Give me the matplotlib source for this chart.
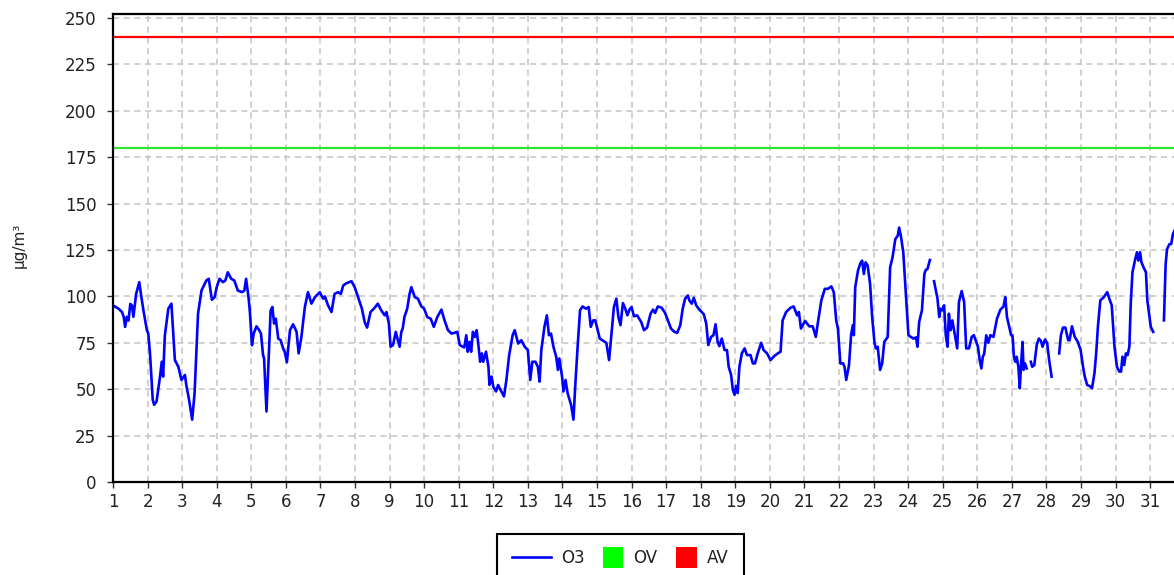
import numpy as np
import matplotlib
matplotlib.use("Agg")
import matplotlib.pyplot as plt
from matplotlib.patches import Rectangle, Patch
from matplotlib.lines import Line2D
from matplotlib.legend_handler import HandlerPatch

# ---- data (day of month, O3 in µg/m³); None = missing measurement ----
day = [
    1.00, 1.16, 1.26, 1.31, 1.35, 1.40, 1.45, 1.50, 1.55, 1.59, 1.67, 1.76, 1.80, 1.88, 1.98,
    2.02, 2.07, 2.15, 2.19, 2.26, 2.36, 2.41, 2.45, 2.50, 2.60, 2.69, 2.79, 2.89, 2.98,
    3.08, 3.12, 3.20, 3.29, 3.36, 3.46, 3.56, 3.70, 3.77, 3.86, 3.94,
    4.00, 4.08, 4.18, 4.25, 4.32, 4.42, 4.51, 4.61, 4.73, 4.80, 4.85, 4.92, 4.96,
    5.02, 5.07, 5.15, 5.23, 5.28, 5.34, 5.37, 5.44, 5.50, 5.56, 5.61, 5.66, 5.71, 5.78, 5.85, 5.92, 5.97,
    6.03, 6.12, 6.21, 6.31, 6.37, 6.45, 6.55, 6.64, 6.74, 6.84, 6.98,
    7.08, 7.13, 7.22, 7.32, 7.41, 7.51, 7.59, 7.66, 7.75, 7.90, 7.99,
    8.09, 8.20, 8.28, 8.35, 8.45, 8.57, 8.66, 8.76, 8.86, 8.91, 8.98,
    9.03, 9.10, 9.18, 9.23, 9.29, 9.34, 9.38, 9.43, 9.51, 9.58, 9.63, 9.73, 9.82, 9.92,
    10.00, 10.09, 10.19, 10.28, 10.38, 10.50, 10.59, 10.69, 10.79, 10.88, 10.96,
    11.03, 11.09, 11.16, 11.22, 11.26, 11.31, 11.36, 11.41, 11.47, 11.52, 11.57, 11.62, 11.67, 11.71,
    11.79, 11.86, 11.89, 11.95,
    12.00, 12.08, 12.14, 12.21, 12.31, 12.38, 12.46, 12.56, 12.62, 12.72, 12.81, 12.91,
    13.00, 13.07, 13.13, 13.22, 13.29, 13.34, 13.39, 13.48, 13.55, 13.61, 13.67, 13.74, 13.82, 13.87,
    13.91, 13.99,
    14.03, 14.09, 14.15, 14.25, 14.32, 14.37, 14.44, 14.51, 14.58, 14.68, 14.76, 14.82, 14.89, 14.95,
    15.01, 15.08, 15.18, 15.27, 15.35, 15.43, 15.49, 15.56, 15.62, 15.68, 15.75, 15.81, 15.88, 15.94,
    16.00, 16.07, 16.16, 16.28, 16.36, 16.45, 16.55, 16.62, 16.68, 16.76, 16.87, 16.97,
    17.05, 17.14, 17.24, 17.32, 17.41, 17.48, 17.55, 17.63, 17.67, 17.74, 17.80, 17.87, 17.96,
    18.09, 18.16, 18.22, 18.30, 18.37, 18.43, 18.49, 18.54, 18.61, 18.69, 18.76, 18.81, 18.88, 18.93,
    18.98, 19.02, 19.07, 19.12, 19.19, 19.27, 19.34, 19.44, 19.51, 19.57, 19.65, 19.75, 19.82, 19.92,
    20.02, 20.13, 20.23, 20.31, 20.37, 20.47, 20.60, 20.69, 20.79, 20.84, 20.90,
    21.02, 21.14, 21.24, 21.33, 21.40, 21.49, 21.59, 21.68, 21.78, 21.85, 21.92, 21.97,
    22.04, 22.12, 22.16, 22.21, 22.29, 22.35, 22.40, 22.43, 22.47, 22.55, 22.62, 22.67, 22.72, 22.77,
    22.83, 22.90, 22.96,
    23.03, 23.07, 23.12, 23.19, 23.25, 23.31, 23.41, 23.48, 23.55, 23.63, 23.70, 23.74, 23.79, 23.86,
    23.94,
    24.01, 24.08, 24.15, 24.23, 24.27, 24.32, 24.40, 24.47, 24.51, 24.56, 24.63,
    24.69,
    24.75, 24.85, 24.90, 24.94, 24.99, 25.04, 25.09, 25.14, 25.18, 25.23, 25.28, 25.37, 25.42, 25.47,
    25.55, 25.62, 25.68, 25.76, 25.84, 25.90, 25.97,
    26.02, 26.07, 26.12, 26.16, 26.20, 26.26, 26.32, 26.38, 26.47, 26.57, 26.67, 26.76, 26.81, 26.86,
    26.92, 26.98,
    27.02, 27.06, 27.10, 27.14, 27.19, 27.23, 27.27, 27.31, 27.34, 27.38, 27.43,
    27.49,
    27.55, 27.59, 27.65, 27.72, 27.78, 27.84, 27.89, 27.96, 28.02, 28.08, 28.15,
    28.26,
    28.37, 28.42, 28.48, 28.55, 28.63, 28.67, 28.74, 28.82, 28.91, 28.99,
    29.06, 29.11, 29.18, 29.28, 29.32, 29.39, 29.44, 29.49, 29.56, 29.66, 29.76, 29.82, 29.89, 29.97,
    30.04, 30.11, 30.16, 30.20, 30.25, 30.30, 30.35, 30.40, 30.44, 30.49, 30.56, 30.62, 30.66, 30.71,
    30.75, 30.81, 30.88, 30.92, 30.97, 31.02, 31.09,
    31.25,
    31.40, 31.45, 31.49, 31.56, 31.61, 31.66, 31.72,
]

o3 = [
    95.2, 93.4, 91.6, 89.0, 83.6, 89.0, 87.0, 96.0, 95.0, 89.0, 101.4, 107.7, 102.3, 92.5, 81.8,
    80.0, 69.3, 44.3, 41.6, 43.4, 56.8, 64.8, 56.8, 79.0, 93.4, 96.1, 65.7, 62.1, 55.0,
    57.7, 52.3, 44.3, 33.6, 47.9, 90.7, 103.2, 108.6, 109.5, 98.2, 99.6,
    105.0, 109.5, 107.7, 108.6, 113.0, 109.5, 108.6, 103.2, 102.3, 103.2, 109.5, 99.6, 91.6,
    73.7, 80.0, 83.9, 81.8, 80.0, 68.4, 66.6, 38.0, 65.7, 92.5, 94.3, 85.4, 88.0, 77.3, 76.4, 72.0, 70.0,
    64.5, 81.8, 85.0, 80.9, 69.3, 78.2, 94.3, 102.3, 96.1, 99.6, 102.3,
    98.8, 100.0, 95.2, 91.6, 101.4, 102.3, 101.4, 105.9, 107.1, 108.2, 105.0,
    99.6, 93.4, 86.2, 83.2, 91.6, 93.9, 96.1, 92.5, 89.8, 91.6, 85.4,
    72.9, 73.8, 80.9, 77.3, 72.9, 80.9, 82.7, 88.9, 93.4, 101.4, 105.0, 99.6, 98.8, 94.6,
    93.4, 88.9, 88.0, 83.6, 88.9, 92.9, 87.1, 81.8, 80.0, 80.4, 80.9,
    73.8, 73.2, 72.5, 79.1, 70.2, 75.5, 70.2, 80.9, 78.2, 81.8, 73.8, 64.8, 69.3, 64.8,
    70.2, 62.1, 52.3, 56.8,
    51.4, 48.8, 52.3, 49.6, 46.1, 55.0, 68.4, 79.1, 81.8, 74.6, 76.4, 72.9,
    71.1, 55.0, 64.8, 64.8, 62.1, 54.1, 71.1, 83.6, 89.8, 79.1, 80.0, 72.9, 67.5, 60.4,
    66.6, 56.8,
    48.8, 55.0, 47.9, 41.6, 33.6, 51.4, 72.9, 92.5, 94.6, 93.4, 94.3, 83.6, 87.1, 87.1,
    82.7, 77.3, 76.1, 75.0, 65.7, 81.8, 94.3, 98.8, 88.9, 84.5, 96.4, 93.9, 89.8, 92.9,
    94.3, 89.3, 89.8, 86.2, 81.8, 83.2, 90.7, 92.9, 91.1, 94.6, 93.9, 91.1,
    87.1, 82.7, 80.9, 80.4, 84.5, 93.4, 98.8, 100.5, 97.9, 96.1, 99.3, 95.2, 92.9,
    90.4, 85.4, 73.8, 78.2, 79.1, 85.0, 75.5, 73.2, 77.3, 71.1, 71.1, 62.1, 57.7, 49.6,
    47.0, 51.8, 47.9, 62.1, 69.3, 72.0, 68.4, 68.4, 63.9, 63.9, 69.3, 75.0, 71.1, 69.3,
    65.7, 67.9, 69.3, 70.2, 87.1, 91.6, 93.9, 94.6, 89.8, 91.6, 82.7,
    86.8, 83.9, 83.9, 78.2, 87.1, 97.9, 104.1, 104.1, 105.4, 102.3, 87.1, 82.7,
    63.9, 63.9, 62.1, 55.0, 63.0, 79.1, 84.5, 79.1, 105.0, 113.9, 117.9, 119.3, 112.1, 118.4,
    116.6, 106.8, 88.9,
    74.6, 72.0, 72.9, 60.4, 63.9, 75.5, 78.2, 115.7, 121.1, 130.9, 132.7, 137.1, 132.7, 123.8,
    99.6,
    79.1, 78.2, 77.3, 77.9, 72.9, 86.3, 92.5, 112.1, 114.3, 114.8, 119.6,
    None,
    108.2, 98.8, 88.9, 93.4, 92.5, 95.2, 79.1, 72.9, 90.7, 81.8, 87.1, 77.3, 72.0, 97.0,
    102.9, 97.0, 72.0, 72.0, 78.2, 79.1, 75.5,
    72.9, 65.7, 61.2, 67.5, 69.0, 79.0, 75.0, 79.1, 78.2, 88.0, 92.9, 94.6, 99.6, 88.9,
    83.9, 79.1,
    79.1, 67.5, 64.8, 67.5, 62.1, 50.5, 63.9, 75.5, 60.4, 63.9, 61.2,
    None,
    64.8, 62.1, 63.0, 73.8, 77.3, 76.1, 72.9, 76.8, 75.0, 65.7, 56.8,
    None,
    69.3, 79.1, 83.2, 83.2, 76.4, 76.4, 83.9, 78.2, 75.5, 71.1,
    62.1, 56.8, 52.3, 51.4, 50.5, 58.6, 69.3, 83.6, 97.9, 99.6, 102.3, 98.8, 95.2, 72.9,
    62.1, 59.5, 59.5, 67.5, 63.0, 69.3, 68.4, 72.9, 96.1, 113.0, 119.3, 123.8, 119.3, 123.8,
    118.4, 115.7, 113.0, 97.9, 90.7, 83.6, 80.9,
    None,
    87.1, 117.5, 125.5, 128.2, 128.2, 133.6, 136.0,
]

ov_limit = 180   # information threshold (OV)
av_limit = 240   # alert threshold (AV)
x_ticks = list(range(1, 32))
y_ticks = list(range(0, 251, 25))
series_labels = ["O3", "OV", "AV"]

o3_arr = np.array([np.nan if v is None else v for v in o3], dtype=float)
day_arr = np.array(day, dtype=float)

W, H = 1174, 575
fig = plt.figure(figsize=(W / 100, H / 100), dpi=100)
ax_left, ax_right, ax_top, ax_bottom = 113, 1174, 14, 482
ax = fig.add_axes([ax_left / W, 1 - ax_bottom / H, (ax_right - ax_left) / W, (ax_bottom - ax_top) / H])

px_per_day = 34.57
ax.set_xlim(1, 1 + (ax_right - ax_left) / px_per_day)
ax.set_ylim(0, 252.2)

ax.set_xticks(x_ticks)
ax.set_yticks(y_ticks)
ax.grid(True, color="#c4c4c4", linestyle=(0, (4, 3)), linewidth=1.1)
ax.set_axisbelow(True)

ax.axhline(av_limit, color="#ff0000", lw=1.6, zorder=2)
ax.axhline(ov_limit, color="#2ee62e", lw=1.6, zorder=2)
ax.plot(day_arr, o3_arr, color="#0000ff", lw=1.9, zorder=3)

for side in ("left", "bottom", "top"):
    ax.spines[side].set_color("black")
    ax.spines[side].set_linewidth(1.6)
ax.spines["right"].set_visible(False)

ax.tick_params(axis="both", direction="out", length=4, width=1.0, color="#333333",
               labelsize=12, labelcolor="#222222")
ax.tick_params(axis="y", pad=8)
ax.tick_params(axis="x", pad=4)

ax.set_ylabel("µg/m³", fontsize=11, color="#222222")
ax.yaxis.set_label_coords(-0.081, 0.506)


class SquareHandler(HandlerPatch):
    def create_artists(self, legend, orig_handle, xdescent, ydescent, width, height, fontsize, trans):
        s = 15.0
        r = Rectangle((-xdescent + width - s, -ydescent + height / 2 - s / 2), s, s,
                      facecolor=orig_handle.get_facecolor(), edgecolor="none", transform=trans)
        return [r]


handles = [Line2D([], [], color="#0000ff", lw=1.9),
           Patch(facecolor="#00ff00"),
           Patch(facecolor="#ff0000")]
leg = fig.legend(handles, series_labels, loc="upper center",
                 bbox_to_anchor=(620 / W, 1 - 534 / H), ncol=3, fontsize=12,
                 frameon=True, fancybox=False, edgecolor="black", framealpha=1,
                 handlelength=2.35, handletextpad=0.6, columnspacing=0.0,
                 borderpad=0.9, borderaxespad=0,
                 handler_map={Patch: SquareHandler()})
leg.get_frame().set_linewidth(1.5)
for t in leg.get_texts():
    t.set_color("#222222")

fig.savefig("out.png", dpi=100)
